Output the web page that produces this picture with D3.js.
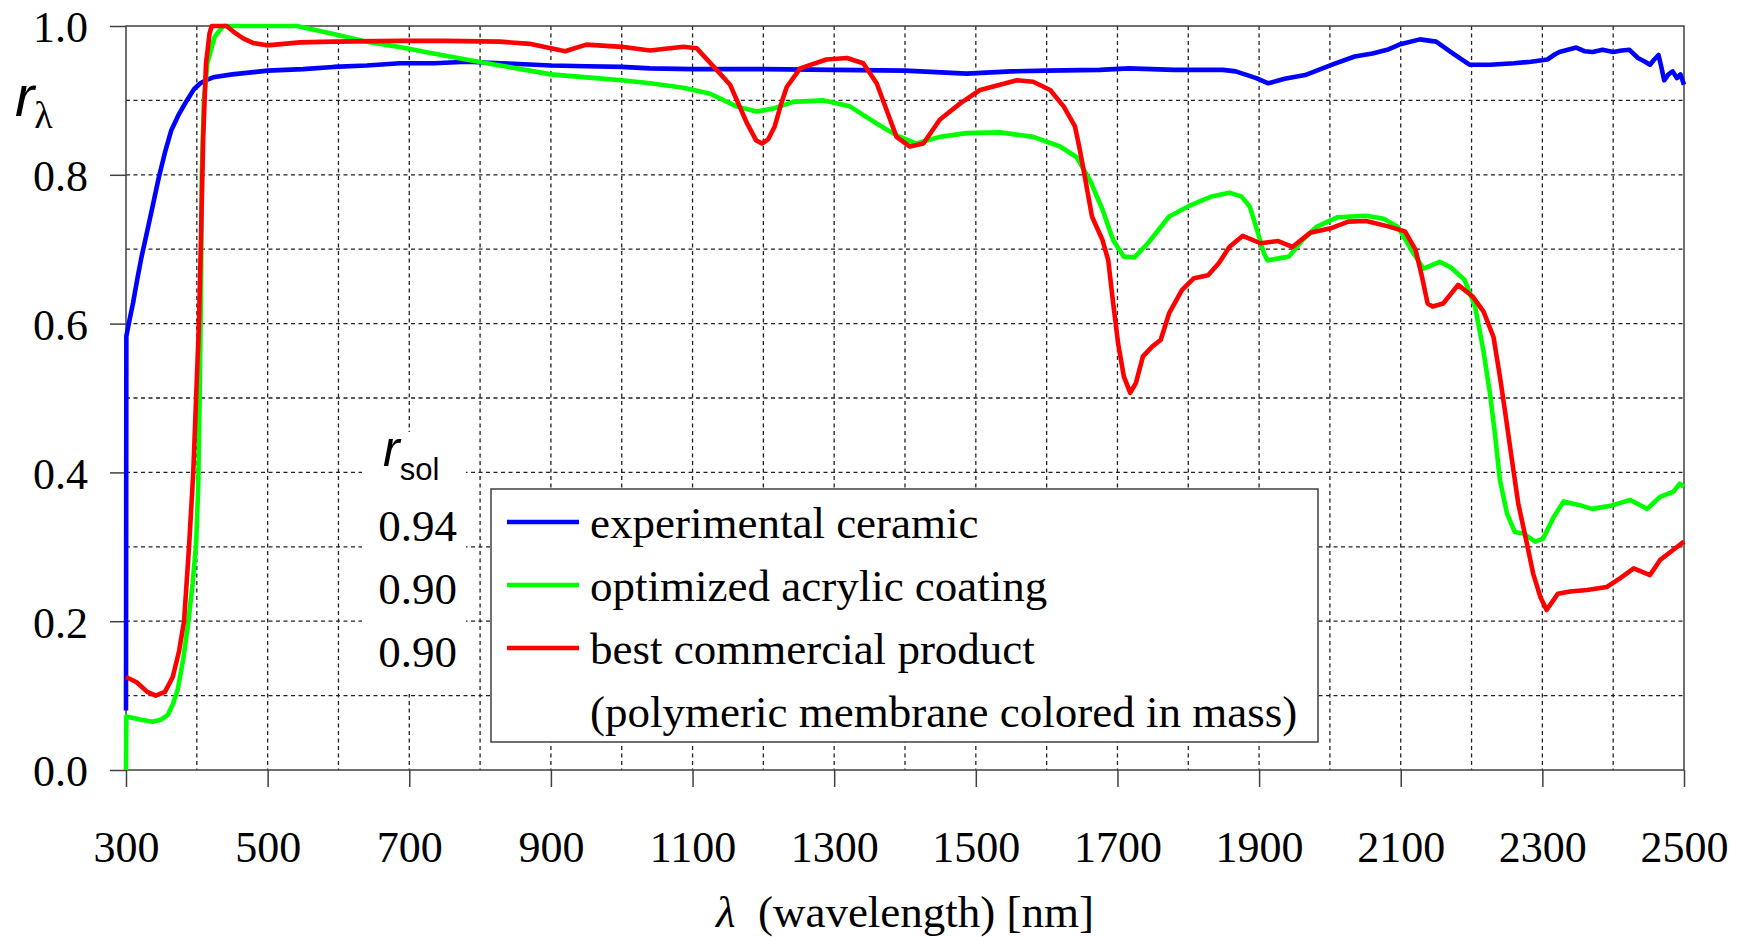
<!DOCTYPE html>
<html>
<head>
<meta charset="utf-8">
<script src="https://cdnjs.cloudflare.com/ajax/libs/d3/7.8.5/d3.min.js"></script>
<style>
  body { margin: 0; background: #fff; }
  svg { display: block; }
</style>
</head>
<body>
<div id="chart"></div>
<script>
// data: [wavelength nm, reflectance]
var ceramic = [[300,0.08],[300.5,0.583],[305,0.605],[310,0.628],[316,0.66],[322,0.69],[329,0.72],[337,0.755],[346,0.795],[355,0.83],[364,0.86],[375,0.882],[386,0.90],[396,0.915],[405,0.923],[415,0.928],[423,0.931],[450,0.935],[500,0.940],[550,0.942],[593,0.945],[640,0.947],[687,0.950],[735,0.950],[781,0.952],[830,0.950],[900,0.947],[950,0.946],[1000,0.945],[1040,0.943],[1100,0.942],[1200,0.942],[1300,0.941],[1400,0.940],[1487,0.936],[1550,0.939],[1600,0.940],[1675,0.941],[1716,0.943],[1780,0.941],[1849,0.941],[1867,0.939],[1896,0.930],[1913,0.923],[1936,0.929],[1965,0.934],[2006,0.949],[2035,0.959],[2060,0.963],[2081,0.968],[2098,0.975],[2127,0.982],[2150,0.979],[2174,0.963],[2197,0.948],[2226,0.948],[2260,0.950],[2284,0.952],[2307,0.955],[2318,0.962],[2324,0.965],[2336,0.968],[2348,0.971],[2360,0.966],[2371,0.965],[2385,0.968],[2400,0.965],[2412,0.967],[2423,0.968],[2435,0.957],[2445,0.952],[2452,0.948],[2458,0.955],[2464,0.961],[2468,0.945],[2472,0.927],[2478,0.935],[2484,0.939],[2490,0.930],[2495,0.935],[2500,0.921]];

var acrylic = [[300,0.0],[300.5,0.072],[320,0.068],[337,0.065],[350,0.068],[359,0.074],[366,0.088],[373,0.108],[381,0.15],[388,0.199],[394,0.25],[399,0.304],[402,0.381],[404,0.5],[406,0.65],[407,0.8],[410,0.9],[415,0.95],[425,0.985],[437,1.0],[480,1.0],[541,1.0],[590,0.99],[640,0.979],[690,0.971],[734,0.963],[780,0.955],[828,0.947],[870,0.94],[900,0.935],[950,0.931],[1000,0.927],[1040,0.923],[1087,0.917],[1125,0.909],[1162,0.892],[1190,0.885],[1214,0.889],[1242,0.898],[1285,0.900],[1322,0.892],[1360,0.869],[1388,0.853],[1416,0.842],[1449,0.851],[1487,0.856],[1534,0.857],[1581,0.851],[1619,0.838],[1642,0.824],[1661,0.793],[1679,0.753],[1694,0.712],[1709,0.690],[1724,0.689],[1743,0.708],[1773,0.744],[1803,0.759],[1833,0.771],[1858,0.776],[1875,0.771],[1887,0.757],[1897,0.726],[1907,0.694],[1912,0.685],[1942,0.690],[1961,0.712],[1981,0.730],[2011,0.743],[2051,0.745],[2076,0.741],[2096,0.730],[2115,0.699],[2132,0.674],[2155,0.683],[2170,0.676],[2190,0.659],[2205,0.623],[2217,0.562],[2226,0.506],[2233,0.452],[2240,0.390],[2250,0.345],[2261,0.320],[2273,0.318],[2290,0.307],[2301,0.311],[2316,0.340],[2330,0.361],[2353,0.356],[2370,0.351],[2396,0.355],[2424,0.363],[2448,0.351],[2466,0.367],[2485,0.374],[2494,0.385],[2500,0.381]];

var commercial = [[300,0.125],[315,0.118],[330,0.105],[342,0.100],[355,0.105],[366,0.125],[375,0.16],[382,0.2],[389,0.3],[395,0.4],[399,0.5],[403,0.6],[406,0.72],[409,0.85],[413,0.95],[418,0.99],[421,1.0],[442,1.0],[455,0.99],[466,0.983],[480,0.977],[499,0.974],[546,0.978],[593,0.979],[687,0.980],[750,0.980],[828,0.979],[870,0.976],[900,0.970],[920,0.966],[950,0.975],[1000,0.972],[1040,0.967],[1087,0.972],[1106,0.970],[1134,0.941],[1153,0.921],[1165,0.895],[1177,0.869],[1190,0.846],[1198,0.842],[1207,0.848],[1216,0.865],[1225,0.895],[1233,0.918],[1252,0.943],[1289,0.955],[1318,0.957],[1341,0.950],[1360,0.923],[1374,0.887],[1388,0.851],[1407,0.838],[1426,0.842],[1449,0.874],[1478,0.896],[1506,0.914],[1558,0.927],[1581,0.925],[1605,0.914],[1624,0.892],[1640,0.865],[1647,0.833],[1654,0.797],[1664,0.744],[1679,0.712],[1687,0.685],[1694,0.627],[1701,0.573],[1709,0.529],[1718,0.507],[1726,0.520],[1736,0.556],[1749,0.569],[1761,0.578],[1773,0.614],[1791,0.645],[1808,0.661],[1828,0.665],[1843,0.681],[1858,0.703],[1877,0.718],[1902,0.708],[1927,0.711],[1947,0.703],[1972,0.722],[2001,0.728],[2026,0.737],[2051,0.738],[2081,0.731],[2106,0.724],[2121,0.699],[2130,0.663],[2138,0.627],[2145,0.623],[2160,0.627],[2181,0.652],[2202,0.636],[2217,0.616],[2231,0.582],[2240,0.529],[2247,0.484],[2257,0.417],[2266,0.358],[2278,0.305],[2287,0.264],[2297,0.233],[2306,0.215],[2322,0.237],[2339,0.240],[2363,0.242],[2391,0.246],[2410,0.258],[2429,0.271],[2452,0.262],[2466,0.282],[2485,0.296],[2500,0.307]];

var seriesNames = ["experimental ceramic", "optimized acrylic coating", "best commercial product"];
var seriesColors = ["#0000ff", "#00ff00", "#ff0000"];
var rsolValues = ["0.94", "0.90", "0.90"];
var xTicks = [300, 500, 700, 900, 1100, 1300, 1500, 1700, 1900, 2100, 2300, 2500];
var yTicks = [0, 0.2, 0.4, 0.6, 0.8, 1.0];

// set margins
var svgWidth = 1745;
var svgHeight = 937;
var margin = { top: 26, right: 61, bottom: 167, left: 126 };
var width = svgWidth - margin.left - margin.right;
var height = svgHeight - margin.top - margin.bottom;

var serif = "'Liberation Serif', 'Times New Roman', serif";
var sans = "'Liberation Sans', Arial, sans-serif";

var svg = d3.select("#chart")
    .append("svg")
    .attr("width", svgWidth)
    .attr("height", svgHeight);

var chartGroup = svg.append("g")
    .attr("transform", `translate(${margin.left}, ${margin.top})`);

var x = d3.scaleLinear().domain([300, 2500]).range([0, width]);
var y = d3.scaleLinear().domain([0, 1]).range([height, 0]);

// dashed grid
chartGroup.append("g").selectAll("line")
    .data(d3.range(400, 2500, 100))
    .enter().append("line")
    .attr("x1", d => x(d)).attr("x2", d => x(d))
    .attr("y1", 0).attr("y2", height)
    .attr("stroke", "#222").attr("stroke-width", 1.3)
    .attr("stroke-dasharray", "4,3.5");

chartGroup.append("g").selectAll("line")
    .data(d3.range(1, 10).map(d => d / 10))
    .enter().append("line")
    .attr("x1", 0).attr("x2", width)
    .attr("y1", d => y(d)).attr("y2", d => y(d))
    .attr("stroke", "#222").attr("stroke-width", 1.3)
    .attr("stroke-dasharray", "4,3.5");

// axes
var xAxis = d3.axisBottom(x).tickValues(xTicks).tickSize(17).tickSizeOuter(0).tickFormat(d3.format("d"));
var yAxis = d3.axisLeft(y).tickValues(yTicks).tickSize(16).tickSizeOuter(0).tickPadding(22).tickFormat(d3.format(".1f"));

var gx = chartGroup.append("g")
    .attr("transform", `translate(0, ${height})`)
    .call(xAxis);
gx.selectAll("text").attr("dy", null).attr("y", 92);

var gy = chartGroup.append("g").call(yAxis);
gy.selectAll("text").attr("dy", "0.36em");

[gx, gy].forEach(function(g) {
    g.attr("color", "#404040");
    g.selectAll("line").attr("stroke-width", 1.5);
    g.selectAll("text").attr("fill", "#000").attr("font-family", serif).attr("font-size", 44);
    g.select(".domain").remove();
});

// frame
chartGroup.append("rect")
    .attr("width", width).attr("height", height)
    .attr("fill", "none").attr("stroke", "#404040").attr("stroke-width", 1.5);

// white patch behind r_sol column
chartGroup.append("rect")
    .attr("x", 236).attr("y", 406)
    .attr("width", 104).attr("height", 262)
    .attr("fill", "#fff");

// curves
var line = d3.line().x(d => x(d[0])).y(d => y(d[1]));
[ceramic, acrylic, commercial].forEach(function(data, i) {
    chartGroup.append("path")
        .datum(data)
        .attr("d", line)
        .attr("fill", "none")
        .attr("stroke", seriesColors[i])
        .attr("stroke-width", 4.6)
        .attr("stroke-linejoin", "round");
});

// legend
var legend = svg.append("g").attr("transform", "translate(491, 489)");
legend.append("rect")
    .attr("width", 827).attr("height", 253)
    .attr("fill", "#fff").attr("stroke", "#404040").attr("stroke-width", 1.5);

seriesNames.forEach(function(name, i) {
    legend.append("line")
        .attr("x1", 16).attr("x2", 88)
        .attr("y1", 33 + i * 63).attr("y2", 33 + i * 63)
        .attr("stroke", seriesColors[i]).attr("stroke-width", 4.6);
    legend.append("text")
        .attr("x", 99).attr("y", 49 + i * 63)
        .attr("font-family", serif).attr("font-size", 45)
        .text(name);
});
legend.append("text")
    .attr("x", 99).attr("y", 238)
    .attr("font-family", serif).attr("font-size", 45)
    .text("(polymeric membrane colored in mass)");

// r_sol column
var rsol = svg.append("text")
    .attr("x", 383).attr("y", 466)
    .attr("font-family", sans);
rsol.append("tspan").attr("font-style", "italic").attr("font-size", 50).text("r");
rsol.append("tspan").attr("font-size", 31).attr("dy", 14).text("sol");

rsolValues.forEach(function(v, i) {
    svg.append("text")
        .attr("x", 457).attr("y", 541 + i * 63)
        .attr("text-anchor", "end")
        .attr("font-family", serif).attr("font-size", 45)
        .text(v);
});

// y axis title
var ylab = svg.append("text")
    .attr("x", 15).attr("y", 116)
    .attr("font-family", sans);
ylab.append("tspan").attr("font-style", "italic").attr("font-size", 58).text("r");
ylab.append("tspan").attr("font-family", serif).attr("font-size", 38).attr("dy", 12).text("λ");

// x axis title
var xlab = svg.append("text")
    .attr("x", margin.left + width / 2).attr("y", 927)
    .attr("text-anchor", "middle")
    .attr("font-family", serif).attr("font-size", 45);
xlab.append("tspan").attr("font-style", "italic").text("λ");
xlab.append("tspan").text("\u00a0 (wavelength) [nm]");
</script>
</body>
</html>
